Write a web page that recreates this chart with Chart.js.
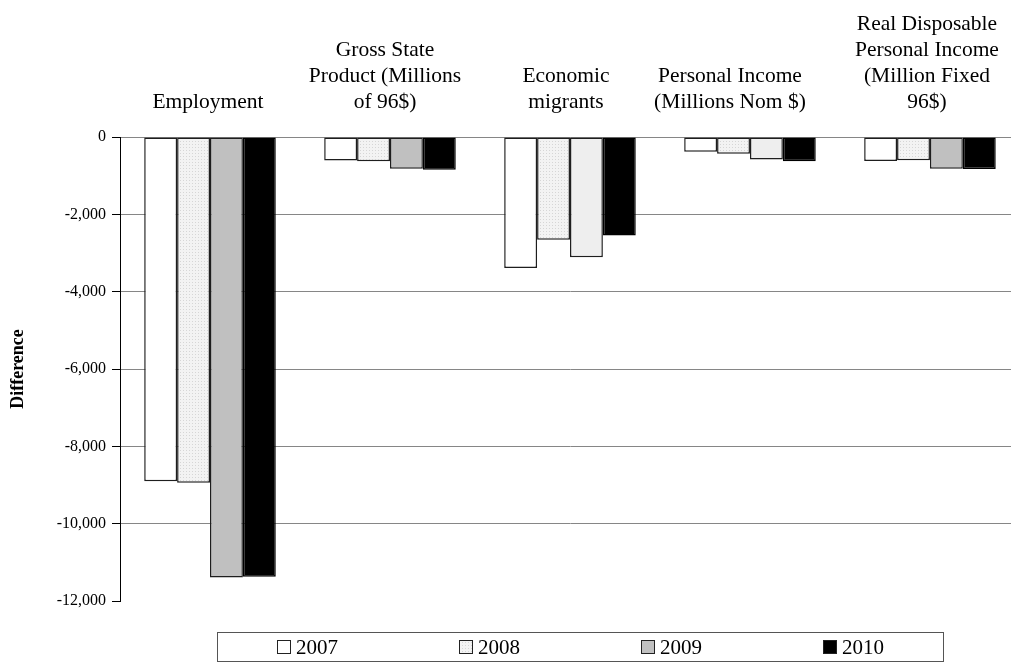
<!DOCTYPE html>
<html>
<head>
<meta charset="utf-8">
<script src="https://cdn.jsdelivr.net/npm/chart.js@4"></script>
<style>
  html, body { margin: 0; padding: 0; background: #fff; overflow: hidden; }
  #wrap { width: 1011px; height: 663px; overflow: hidden; }
</style>
</head>
<body>
<div id="wrap"><canvas id="myChart" width="1024" height="663"></canvas></div>
<script>
const categories = [
  ['Employment'],
  ['Gross State', 'Product (Millions', 'of 96$)'],
  ['Economic', 'migrants'],
  ['Personal Income', '(Millions Nom $)'],
  ['Real Disposable', 'Personal Income', '(Million Fixed', '96$)']
];
const years = ['2007', '2008', '2009', '2010'];
const v2007 = [-8900, -610, -3390, -380, -620];
const v2008 = [-8940, -630, -2660, -430, -600];
const v2009 = [-11390, -820, -3110, -580, -820];
const v2010 = [-11370, -845, -2550, -630, -825];
const Y_MIN = -12000;
const Y_MAX = 0;
const Y_STEP = 2000;

const FONT = "'Liberation Serif', 'Times New Roman', serif";

// dotted fill for 2008
function dotPattern() {
  const c = document.createElement('canvas');
  c.width = 3; c.height = 3;
  const g = c.getContext('2d');
  g.fillStyle = '#f3f3f3';
  g.fillRect(0, 0, 3, 3);
  g.fillStyle = '#d6d6d6';
  g.fillRect(0, 0, 1, 1);
  return g.createPattern(c, 'repeat');
}
const pat2008 = dotPattern();
const fill2009 = ['#c0c0c0', '#c0c0c0', '#eeeeee', '#eeeeee', '#c0c0c0'];

const series = [v2007, v2008, v2009, v2010];
const fills = ['#ffffff', pat2008, fill2009, '#000000'];
const legendFills = ['#ffffff', pat2008, '#c0c0c0', '#000000'];

// Excel nudges some category labels sideways
const labelShift = [-2, -5, -4, -20, -3];

const shiftLabels = {
  id: 'shiftLabels',
  beforeDraw(chart) {
    const items = chart.scales.x.getLabelItems();
    items.forEach((it, i) => {
      if (it._moved) return;
      it.options.translation[0] += labelShift[i] || 0;
      it._moved = true;
    });
  }
};

const boxLegend = {
  id: 'boxLegend',
  afterDraw(chart) {
    const ctx = chart.ctx;
    ctx.save();
    ctx.strokeStyle = '#555';
    ctx.lineWidth = 1;
    ctx.strokeRect(217.5, 632.5, 726, 29);
    ctx.font = '21px ' + FONT;
    ctx.textBaseline = 'middle';
    ctx.textAlign = 'left';
    chart.data.datasets.forEach((ds, i) => {
      const x = 277 + i * 182;
      ctx.fillStyle = legendFills[i];
      ctx.fillRect(x, 640, 14, 14);
      ctx.strokeStyle = '#222';
      ctx.strokeRect(x + 0.5, 640.5, 13, 13);
      ctx.fillStyle = '#000';
      ctx.fillText(ds.label, x + 19, 648);
    });
    ctx.restore();
  }
};

const ctxt = document.getElementById('myChart').getContext('2d');

const myChart = new Chart(ctxt, {
  type: 'bar',
  data: {
    labels: categories,
    datasets: years.map((y, i) => ({
      label: y,
      data: series[i],
      backgroundColor: fills[i],
      borderColor: i === 3 ? '#000' : '#1e1e1e',
      borderWidth: 1.5,
      borderSkipped: false,
      categoryPercentage: 0.731,
      barPercentage: 1
    }))
  },
  options: {
    responsive: false,
    animation: false,
    layout: { padding: { top: 0, right: 1, bottom: 62, left: 0 } },
    plugins: {
      legend: { display: false },
      tooltip: { enabled: false }
    },
    scales: {
      x: {
        position: 'top',
        grid: { display: false, drawTicks: false },
        border: { display: false },
        ticks: {
          color: '#000',
          padding: 22,
          maxRotation: 0,
          autoSkip: false,
          font: { family: FONT, size: 21.5, lineHeight: 26 / 21.5 }
        },
        afterFit: (s) => { s.height = 137; }
      },
      y: {
        min: Y_MIN,
        max: Y_MAX,
        ticks: {
          stepSize: Y_STEP,
          color: '#000',
          padding: 6,
          font: { family: FONT, size: 16 },
          callback: (v) => v.toLocaleString('en-US')
        },
        grid: {
          color: (c) => c.tick && c.tick.value === Y_MIN ? 'rgba(0,0,0,0)' : '#868686',
          tickColor: '#000',
          tickLength: 8,
          lineWidth: 1
        },
        border: { color: '#000', width: 1 },
        title: {
          display: true,
          text: 'Difference',
          color: '#000',
          font: { family: FONT, size: 18, weight: 'bold' },
          padding: { top: 8, bottom: 0 }
        },
        afterFit: (s) => { s.width = 120; }
      }
    }
  },
  plugins: [shiftLabels, boxLegend]
});
</script>
</body>
</html>
